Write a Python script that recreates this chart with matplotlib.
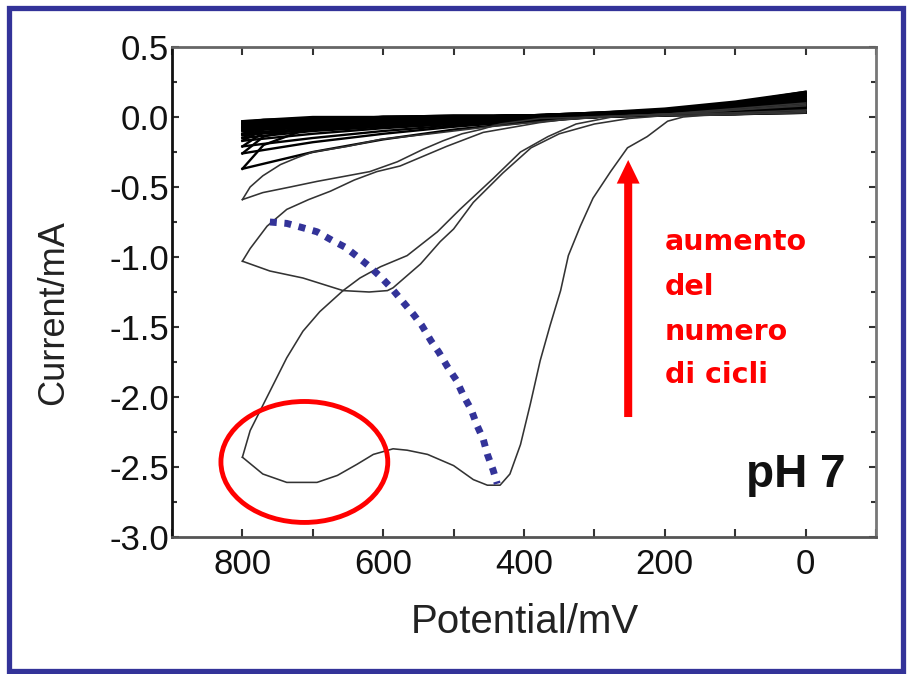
import matplotlib
matplotlib.use("Agg")
import matplotlib.pyplot as plt
from matplotlib.patches import Ellipse, Rectangle
from matplotlib.ticker import MultipleLocator, FuncFormatter

# ---- cyclic voltammogram data (potential in mV, current in mA) ----
# first cycle
c1_cath_E = [0, 100, 150, 174, 196, 225, 253, 277, 302, 320, 337, 348, 363, 377, 391, 405, 420, 434,
             452, 472, 500, 537, 566, 586, 614, 637, 665, 694, 737, 771, 800]
c1_cath_I = [0.03, 0.02, 0.01, 0.0, -0.03, -0.14, -0.22, -0.39, -0.58, -0.78, -0.99, -1.24, -1.49, -1.74,
             -2.05, -2.34, -2.55, -2.63, -2.63, -2.59, -2.49, -2.41, -2.38, -2.37, -2.41, -2.48, -2.56,
             -2.61, -2.61, -2.55, -2.43]
c1_anod_E = [800, 789, 775, 756, 737, 714, 690, 657, 633, 604, 566, 523, 491, 444, 405, 366, 326, 275,
             200, 100, 0]
c1_anod_I = [-2.43, -2.24, -2.10, -1.91, -1.72, -1.53, -1.39, -1.24, -1.15, -1.07, -0.99, -0.82, -0.66,
             -0.44, -0.25, -0.14, -0.05, 0.0, 0.02, 0.06, 0.10]

# second cycle
c2_cath_E = [0, 100, 200, 250, 300, 350, 390, 430, 472, 500, 519, 547, 586, 594, 620, 657, 714, 761, 800]
c2_cath_I = [0.04, 0.02, 0.01, -0.01, -0.05, -0.12, -0.22, -0.40, -0.61, -0.80, -0.89, -1.05, -1.22,
             -1.24, -1.25, -1.24, -1.15, -1.10, -1.03]
c2_anod_E = [800, 789, 765, 737, 706, 675, 641, 609, 576, 510, 458, 378, 313, 200, 100, 0]
c2_anod_I = [-1.03, -0.94, -0.78, -0.66, -0.59, -0.53, -0.45, -0.39, -0.35, -0.21, -0.11, -0.04, 0.0,
             0.02, 0.05, 0.08]

# third cycle
c3_cath_E = [0, 100, 200, 300, 377, 434, 462, 488, 515, 543, 580, 619, 651, 694, 732, 771, 800]
c3_cath_I = [0.05, 0.03, 0.02, 0.0, -0.01, -0.05, -0.09, -0.12, -0.17, -0.23, -0.32, -0.39, -0.42,
             -0.46, -0.50, -0.54, -0.59]
c3_anod_E = [800, 789, 771, 746, 722, 700, 651, 604, 533, 450, 350, 250, 150, 0]
c3_anod_I = [-0.59, -0.50, -0.42, -0.34, -0.29, -0.25, -0.21, -0.16, -0.12, -0.07, -0.02, 0.01, 0.03, 0.09]

# later cycles (nearly flat band)
band_cath_E = [0, 100, 200, 300, 400, 500, 600, 700, 800]
band_anod_E = [800, 770, 700, 600, 500, 400, 300, 200, 100, 0]
band_cath_I = [
    [0.18, 0.10, 0.03, 0.00, -0.04, -0.09, -0.16, -0.25, -0.37],
    [0.17, 0.09, 0.03, 0.00, -0.03, -0.07, -0.12, -0.18, -0.26],
    [0.16, 0.08, 0.03, 0.00, -0.03, -0.06, -0.10, -0.15, -0.21],
    [0.15, 0.08, 0.03, 0.00, -0.02, -0.05, -0.08, -0.12, -0.17],
    [0.14, 0.07, 0.02, 0.00, -0.02, -0.04, -0.07, -0.10, -0.15],
    [0.13, 0.07, 0.02, 0.00, -0.02, -0.04, -0.06, -0.09, -0.13],
    [0.12, 0.06, 0.02, 0.00, -0.01, -0.03, -0.05, -0.08, -0.12],
    [0.11, 0.06, 0.02, 0.00, -0.01, -0.03, -0.05, -0.07, -0.10],
    [0.10, 0.05, 0.02, 0.00, -0.01, -0.02, -0.04, -0.06, -0.09],
    [0.09, 0.05, 0.02, 0.00, -0.01, -0.02, -0.04, -0.06, -0.08],
    [0.08, 0.04, 0.02, 0.00, -0.01, -0.02, -0.03, -0.05, -0.07],
    [0.07, 0.04, 0.02, 0.00, -0.01, -0.02, -0.03, -0.04, -0.06],
    [0.06, 0.03, 0.02, 0.00, 0.00, -0.01, -0.02, -0.03, -0.05],
    [0.04, 0.02, 0.01, 0.00, 0.00, -0.01, -0.02, -0.03, -0.04],
    [0.03, 0.02, 0.01, 0.00, 0.00, -0.01, -0.01, -0.02, -0.03],
]
band_anod_I = [
    [-0.37, -0.20, -0.07, -0.03, -0.01, 0.01, 0.03, 0.06, 0.11, 0.18],
    [-0.26, -0.14, -0.06, -0.03, -0.01, 0.01, 0.03, 0.05, 0.10, 0.17],
    [-0.21, -0.11, -0.05, -0.02, 0.00, 0.01, 0.03, 0.05, 0.10, 0.16],
    [-0.17, -0.09, -0.04, -0.02, 0.00, 0.01, 0.02, 0.05, 0.09, 0.15],
    [-0.15, -0.08, -0.04, -0.02, 0.00, 0.01, 0.02, 0.04, 0.09, 0.14],
    [-0.13, -0.07, -0.03, -0.01, 0.00, 0.01, 0.02, 0.04, 0.08, 0.13],
    [-0.12, -0.06, -0.03, -0.01, 0.00, 0.01, 0.02, 0.04, 0.07, 0.12],
    [-0.10, -0.05, -0.02, -0.01, 0.00, 0.01, 0.02, 0.04, 0.07, 0.11],
    [-0.09, -0.05, -0.02, 0.00, 0.01, 0.01, 0.02, 0.03, 0.06, 0.10],
    [-0.08, -0.04, -0.02, 0.00, 0.01, 0.01, 0.02, 0.03, 0.05, 0.09],
    [-0.07, -0.04, -0.02, 0.00, 0.00, 0.01, 0.02, 0.03, 0.05, 0.08],
    [-0.06, -0.03, -0.01, 0.00, 0.00, 0.01, 0.02, 0.03, 0.05, 0.07],
    [-0.05, -0.03, -0.01, 0.00, 0.00, 0.01, 0.02, 0.03, 0.04, 0.06],
    [-0.04, -0.02, -0.01, 0.00, 0.00, 0.01, 0.01, 0.02, 0.03, 0.04],
    [-0.03, -0.02, 0.00, 0.00, 0.00, 0.01, 0.01, 0.02, 0.02, 0.03],
]

# shift of the reduction peak with cycling
peak_E = [761, 737, 715, 694, 673, 654, 636, 619, 602, 587, 572, 557, 545, 532, 521, 508, 496, 486,
          475, 467, 458, 452, 444, 438]
peak_I = [-0.75, -0.76, -0.79, -0.82, -0.88, -0.93, -1.00, -1.07, -1.15, -1.23, -1.32, -1.41, -1.49,
          -1.60, -1.68, -1.79, -1.88, -1.99, -2.09, -2.20, -2.30, -2.41, -2.52, -2.62]

x_ticks = [800, 600, 400, 200, 0]
y_ticks = [0.5, 0.0, -0.5, -1.0, -1.5, -2.0, -2.5, -3.0]

# ---- figure ----
W, H = 907, 674
fig = plt.figure(figsize=(W / 100, H / 100), dpi=100)
fig.patch.set_facecolor("white")

# blue frame around the slide
fig.patches.append(Rectangle((8.5 / W, 3.5 / H), (903 - 8.5) / W, (666 - 3.5) / H,
                             transform=fig.transFigure, fill=False,
                             edgecolor="#333399", linewidth=3.8, zorder=0))

ax = fig.add_axes([172 / W, 1 - 537 / H, 704 / W, 490 / H])
ax.set_xlim(900, -100)
ax.set_ylim(-3.0, 0.5)

line_kw = dict(color="#333333", linewidth=1.15, solid_joinstyle="round")
for ci, ai in zip(band_cath_I, band_anod_I):
    ax.plot(band_cath_E, ci, color="black", linewidth=1.7)
    ax.plot(band_anod_E, ai, color="black", linewidth=1.7)

for E, I in [(c1_cath_E, c1_cath_I), (c1_anod_E, c1_anod_I),
             (c2_cath_E, c2_cath_I), (c2_anod_E, c2_anod_I),
             (c3_cath_E, c3_cath_I), (c3_anod_E, c3_anod_I)]:
    ax.plot(E, I, **line_kw)

ax.plot(peak_E, peak_I, color="#333399", linewidth=5, linestyle=(0, (1, 1.1)),
        dash_capstyle="butt", zorder=5)

ax.add_patch(Ellipse((712, -2.464), width=237, height=0.864, fill=False,
                     edgecolor="red", linewidth=3.5, zorder=6))

ax.annotate("", xy=(252, -0.307), xytext=(252, -2.143),
            arrowprops=dict(facecolor="red", edgecolor="none", width=5.8,
                            headwidth=16.5, headlength=17, shrink=0), zorder=6)

# ---- axes styling ----
tick_family = ["Liberation Sans", "DejaVu Sans"]
ax.xaxis.set_major_locator(MultipleLocator(200))
ax.xaxis.set_minor_locator(MultipleLocator(100))
ax.yaxis.set_major_locator(MultipleLocator(0.5))
ax.yaxis.set_minor_locator(MultipleLocator(0.25))
ax.set_xticks(x_ticks)
ax.set_yticks(y_ticks)
ax.yaxis.set_major_formatter(FuncFormatter(lambda v, p: f"{v:.1f}"))
ax.tick_params(axis="both", which="both", direction="in", top=True, right=True,
               width=1.5, color="#333333")
ax.tick_params(axis="x", which="both", length=6, pad=8)
ax.tick_params(axis="y", which="major", length=5, pad=2)
ax.tick_params(axis="y", which="minor", length=3.5)
for lab in ax.get_xticklabels() + ax.get_yticklabels():
    lab.set_fontfamily(tick_family)
    lab.set_fontsize(25)
    lab.set_color("#111111")

for side, col in [("left", "#111111"), ("bottom", "#555555"), ("top", "#666666"), ("right", "#777777")]:
    ax.spines[side].set_color(col)
    ax.spines[side].set_linewidth(2.0)

ax.set_xlabel("Potential/mV", fontsize=29, family=tick_family, color="#222222")
ax.set_ylabel("Current/mA", fontsize=26, family=tick_family, color="#222222")
ax.xaxis.label.set_va("center")
ax.yaxis.label.set_va("center")
ax.xaxis.set_label_coords((525 - 172) / 704, (537 - 622) / 490)
ax.yaxis.set_label_coords((54 - 172) / 704, (537 - 313) / 490)

# ---- annotations ----
red_lines = ["aumento", "del", "numero", "di cicli"]
red_base = [250, 295, 340, 383]
for txt, yb in zip(red_lines, red_base):
    fig.text(665 / W, 1 - yb / H, txt, color="#ff0000", fontsize=20.5, fontweight="bold",
             family=["DejaVu Sans"], va="baseline", ha="left")

fig.text(746 / W, 1 - 487 / H, "pH 7", fontsize=33, fontweight="bold",
         family=tick_family, va="baseline", ha="left", color="#111111")

fig.savefig("out.png", dpi=100)
